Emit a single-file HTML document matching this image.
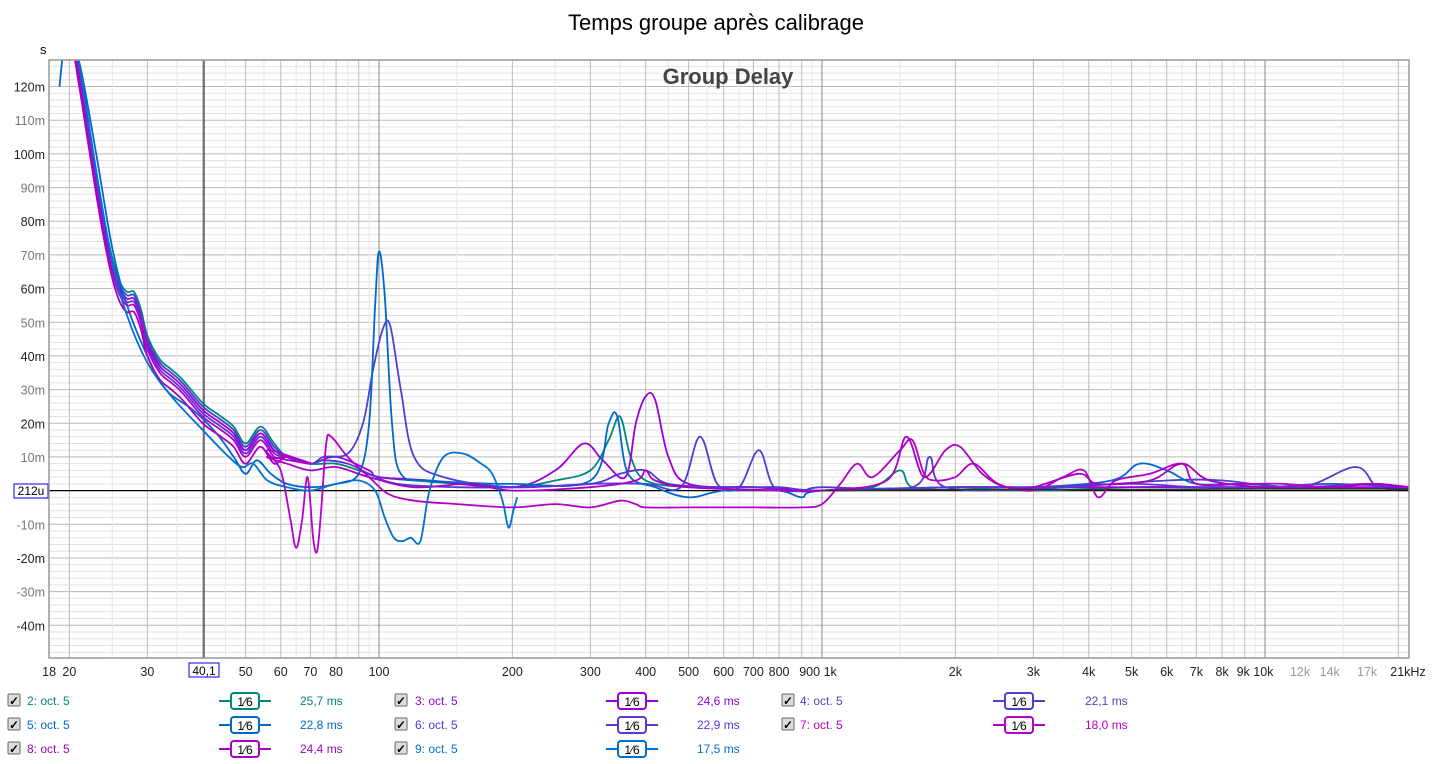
<!DOCTYPE html>
<html><head><meta charset="utf-8"><style>
body{margin:0;background:#fff;font-family:"Liberation Sans",Arial,sans-serif;}
svg{display:block}
</style></head><body>
<svg id="s" width="1433" height="764" xmlns="http://www.w3.org/2000/svg" font-family="Liberation Sans, Arial, sans-serif"></svg>
<script>
const S=document.getElementById('s');let h='';
const L=49,R=1409,T=60,B=658;
const fx=f=>379+443*Math.log10(f/100);
const my=m=>490.6-3.367*m;
h+=`<rect x="0" y="0" width="1433" height="764" fill="#fff"/>`;
h+=`<text x="716" y="30" font-size="22" text-anchor="middle" fill="#000">Temps groupe après calibrage</text>`;
h+=`<text x="40" y="54" font-size="13" fill="#000">s</text>`;
for(let m=-48;m<=130;m+=2){const y=my(m);if(y<T||y>B)continue;const maj=m%10==0;
h+=`<line x1="${L}" x2="${R}" y1="${y}" y2="${y}" stroke="${maj?'#b8b8b8':'#e2e2e2'}" stroke-width="1"/>`;}
for(let d of [10,100,1000,10000]){for(let k=1;k<10;k++){
 for(let s=0;s<10;s+=5){const f=d*(k+s/10);const x=fx(f);if(x<L||x>R)continue;
  if(s==0){const major=(k==1&&d>=100);h+=`<line x1="${x}" x2="${x}" y1="${T}" y2="${B}" stroke="${major?'#888':'#bcbcbc'}"/>`;}
  else h+=`<line x1="${x}" x2="${x}" y1="${T}" y2="${B}" stroke="#e6e6e6"/>`;
 }}}
h+=`<line x1="${L}" x2="${R}" y1="490.6" y2="490.6" stroke="#000" stroke-width="1.3"/>`;
h+=`<line x1="204" x2="204" y1="${T}" y2="${B}" stroke="#000" stroke-width="1"/>`;
for(let m=120;m>=-40;m-=10){if(m==0)continue;const y=my(m)+5;
h+=`<text x="45" y="${y}" font-size="12.5" text-anchor="end" fill="${(m/10)%2?'#777':'#222'}">${m}m</text>`;}
h+=`<rect x="14" y="484" width="34" height="14" fill="#fff" stroke="#0000ff"/><text x="31" y="495" font-size="12" text-anchor="middle" fill="#000">212u</text>`;
const xl=[[18,'18'],[20,'20'],[30,'30'],[50,'50'],[60,'60'],[70,'70'],[80,'80'],[100,'100'],[200,'200'],[300,'300'],[400,'400'],[500,'500'],[600,'600'],[700,'700'],[800,'800'],[2000,'2k'],[3000,'3k'],[4000,'4k'],[5000,'5k'],[6000,'6k'],[7000,'7k'],[8000,'8k']];
for(const [f,t] of xl)h+=`<text x="${fx(f)}" y="676" font-size="12.5" text-anchor="middle" fill="#222">${t}</text>`;
h+=`<text x="818" y="676" font-size="12.5" text-anchor="middle" fill="#222">900 1k</text>`;
h+=`<text x="1255" y="676" font-size="12.5" text-anchor="middle" fill="#222">9k 10k</text>`;
for(const [f,t] of [[12000,'12k'],[14000,'14k'],[17000,'17k']])h+=`<text x="${fx(f)}" y="676" font-size="12.5" text-anchor="middle" fill="#999">${t}</text>`;
h+=`<text x="1408" y="676" font-size="12.5" text-anchor="middle" fill="#222">21kHz</text>`;
h+=`<rect x="189" y="663" width="30" height="14" fill="#fff" stroke="#0000ff"/><text x="204" y="675" font-size="12" text-anchor="middle" fill="#000">40,1</text>`;
h+=`<text x="728" y="84" font-size="22" font-weight="bold" text-anchor="middle" fill="#444">Group Delay</text>`;
const base=[[18.5,150],[20,140],[21,125],[22,108],[23,92],[24,78],[25,67],[26,60],[27,57],[28,57],[29,52],[30,44],[32,37],[34,34],[36,31],[40,24],[44,20],[47,17],[50,12],[54,17],[58,12],[62,10],[70,8]];
function sh(pts,dm,fs){return pts.map(p=>[p[0],p[1]*(fs||1)+(p[0]<60?dm:0)]);}
function path(pts){const P=pts.map(p=>[fx(p[0]),my(p[1])]);let d=`M${P[0][0].toFixed(1)},${P[0][1].toFixed(1)}`;
for(let i=0;i<P.length-1;i++){const p0=P[i-1]||P[i],p1=P[i],p2=P[i+1],p3=P[i+2]||p2;
d+=`C${(p1[0]+(p2[0]-p0[0])/6).toFixed(1)},${(p1[1]+(p2[1]-p0[1])/6).toFixed(1)} ${(p2[0]-(p3[0]-p1[0])/6).toFixed(1)},${(p2[1]-(p3[1]-p1[1])/6).toFixed(1)} ${p2[0].toFixed(1)},${p2[1].toFixed(1)}`;}return d;}
const series=[
 ['#00897b',[...sh(base,2),[80,8],[90,6],[100,4],[120,3],[150,2],[200,1],[250,3],[300,6],[330,15],[350,22],[370,10],[400,3],[500,1],[700,1],[1000,0],[1300,1],[1500,6],[1600,1],[2000,1],[3000,0],[5000,1],[7000,1],[10000,1],[21500,0.5]]],
 ['#9b00d6',[...sh(base,0),[80,10],[95,6],[100,4],[130,3],[200,1],[250,6],[290,14],[320,9],[360,4],[380,20],[400,28],[420,27],[450,10],[500,2],[700,1],[1000,0],[2000,1],[3000,1],[5000,1],[8000,1],[21500,1]]],
 ['#4f3fd0',[...sh(base,1),[75,10],[85,11],[92,20],[97,36],[102,48],[106,49],[112,30],[120,10],[140,4],[200,1],[300,2],[400,2],[480,1],[530,16],[580,2],[650,1],[720,12],[780,1],[900,0],[1000,1],[1600,1],[1750,10],[1900,1],[3000,0.5],[6000,3],[8000,3],[12000,1],[16000,7],[18000,1],[21500,0.5]]],
 ['#0068cc',[[19,120],[19.7,135],[21,128],[23,100],[25,72],[27,55],[30,40],[33,30],[38,24],[43,17],[47,10],[50,5],[53,9],[57,5],[62,2],[70,1],[80,2],[90,5],[95,20],[98,55],[100,71],[103,58],[107,20],[112,5],[130,3],[200,2],[300,3],[330,20],[345,22],[365,5],[420,1],[500,-2],[600,0],[800,0],[900,-2],[1000,0],[2000,1],[3000,1],[4500,3],[5200,8],[6000,6],[7000,2],[9000,2],[12000,1],[17000,2],[21500,1]]],
 ['#5a35d8',[...sh(base,-1),[75,9],[85,8],[95,5],[110,2],[150,1],[200,1],[300,2],[350,5],[400,6],[450,2],[600,1],[800,1],[1000,0],[2000,1],[3000,1],[5000,2],[7000,1],[10000,1],[14000,2],[21500,1]]],
 ['#b400c8',[...sh(base,-2),[56,12],[60,6],[63,-8],[65,-17],[67,-9],[69,4],[71,-14],[72.5,-18],[74,-6],[76,14],[78,16],[85,10],[95,4],[105,-1],[120,-3],[150,-4],[200,-5],[250,-4],[300,-5],[350,-3],[380,-4],[400,-5],[500,-5],[700,-5],[900,-5],[1000,-4],[1100,2],[1200,8],[1300,4],[1500,12],[1600,15],[1700,5],[1800,3],[2000,4],[2200,8],[2500,2],[3000,0],[3500,4],[3900,6],[4200,-2],[4600,3],[5500,5],[6500,8],[7000,2],[9000,2],[11000,2],[14000,1],[17000,2],[21500,1]]],
 ['#a800c4',[...sh(base,-4),[56,10],[62,8],[70,6],[80,7],[95,4],[120,1],[160,2],[200,0],[300,1],[380,3],[400,6],[420,3],[500,1],[800,0],[1000,0],[1400,3],[1550,16],[1700,4],[1900,12],[2050,13],[2300,5],[2600,1],[3000,1],[3800,5],[4200,2],[5500,3],[6500,8],[7500,3],[10000,1],[14000,1],[18000,2],[21500,0.5]]],
 ['#0070d0',[[19.5,150],[21,128],[23,95],[25,68],[27,52],[30,38],[34,28],[40,18],[45,11],[49,7],[52,8],[56,3],[62,1],[70,0],[80,2],[90,3],[98,0],[103,-8],[108,-14],[113,-15],[118,-14],[124,-15],[130,0],[140,10],[155,11],[170,8],[180,5],[190,-3],[196,-11],[201,-6],[205,-2]]]
];
h+=`<clipPath id="c"><rect x="${L}" y="${T}" width="${R-L}" height="${B-T}"/></clipPath>`;
for(const [c,p] of series)h+=`<path clip-path="url(#c)" d="${path(p)}" fill="none" stroke="${c}" stroke-width="1.8"/>`;
h+=`<path clip-path="url(#c)" d="${path([[1000,0],[2000,0.3],[5000,0.3],[10000,0.5],[21500,0.5]])}" fill="none" stroke="#333" stroke-width="1.5"/>`;
h+=`<rect x="${L}" y="${T}" width="${R-L}" height="${B-T}" fill="none" stroke="#999" stroke-width="1.5"/>`;
const lg=[[8,27,245,300,'2: oct. 5','25,7 ms','#00897b',701],[395,415,632,697,'3: oct. 5','24,6 ms','#9b00d6',701],[782,800,1019,1085,'4: oct. 5','22,1 ms','#4f3fd0',701],
[8,27,245,300,'5: oct. 5','22,8 ms','#0068cc',725],[395,415,632,697,'6: oct. 5','22,9 ms','#5a35d8',725],[782,800,1019,1085,'7: oct. 5','18,0 ms','#b400c8',725],
[8,27,245,300,'8: oct. 5','24,4 ms','#a800c4',749],[395,415,632,697,'9: oct. 5','17,5 ms','#0070d0',749]];
for(const [cx,tx,sx,mx,t,ms,c,y] of lg){
h+=`<rect x="${cx}" y="${y-7}" width="12" height="12" fill="#ddd" stroke="#666" rx="1"/><text x="${cx+6}" y="${y+4}" font-size="12" font-weight="bold" text-anchor="middle" fill="#000">✓</text>`;
h+=`<text x="${tx}" y="${y+4}" font-size="12" fill="${c}">${t}</text>`;
h+=`<line x1="${sx-26}" x2="${sx+26}" y1="${y}" y2="${y}" stroke="${c}" stroke-width="2"/><rect x="${sx-14}" y="${y-8}" width="28" height="16" rx="3" fill="#fff" stroke="${c}" stroke-width="2"/><text x="${sx}" y="${y+5}" font-size="12" text-anchor="middle" fill="#000">1⁄6</text>`;
h+=`<text x="${mx}" y="${y+4}" font-size="12" fill="${c}">${ms}</text>`;}
S.innerHTML=h;
</script>
</body></html>
